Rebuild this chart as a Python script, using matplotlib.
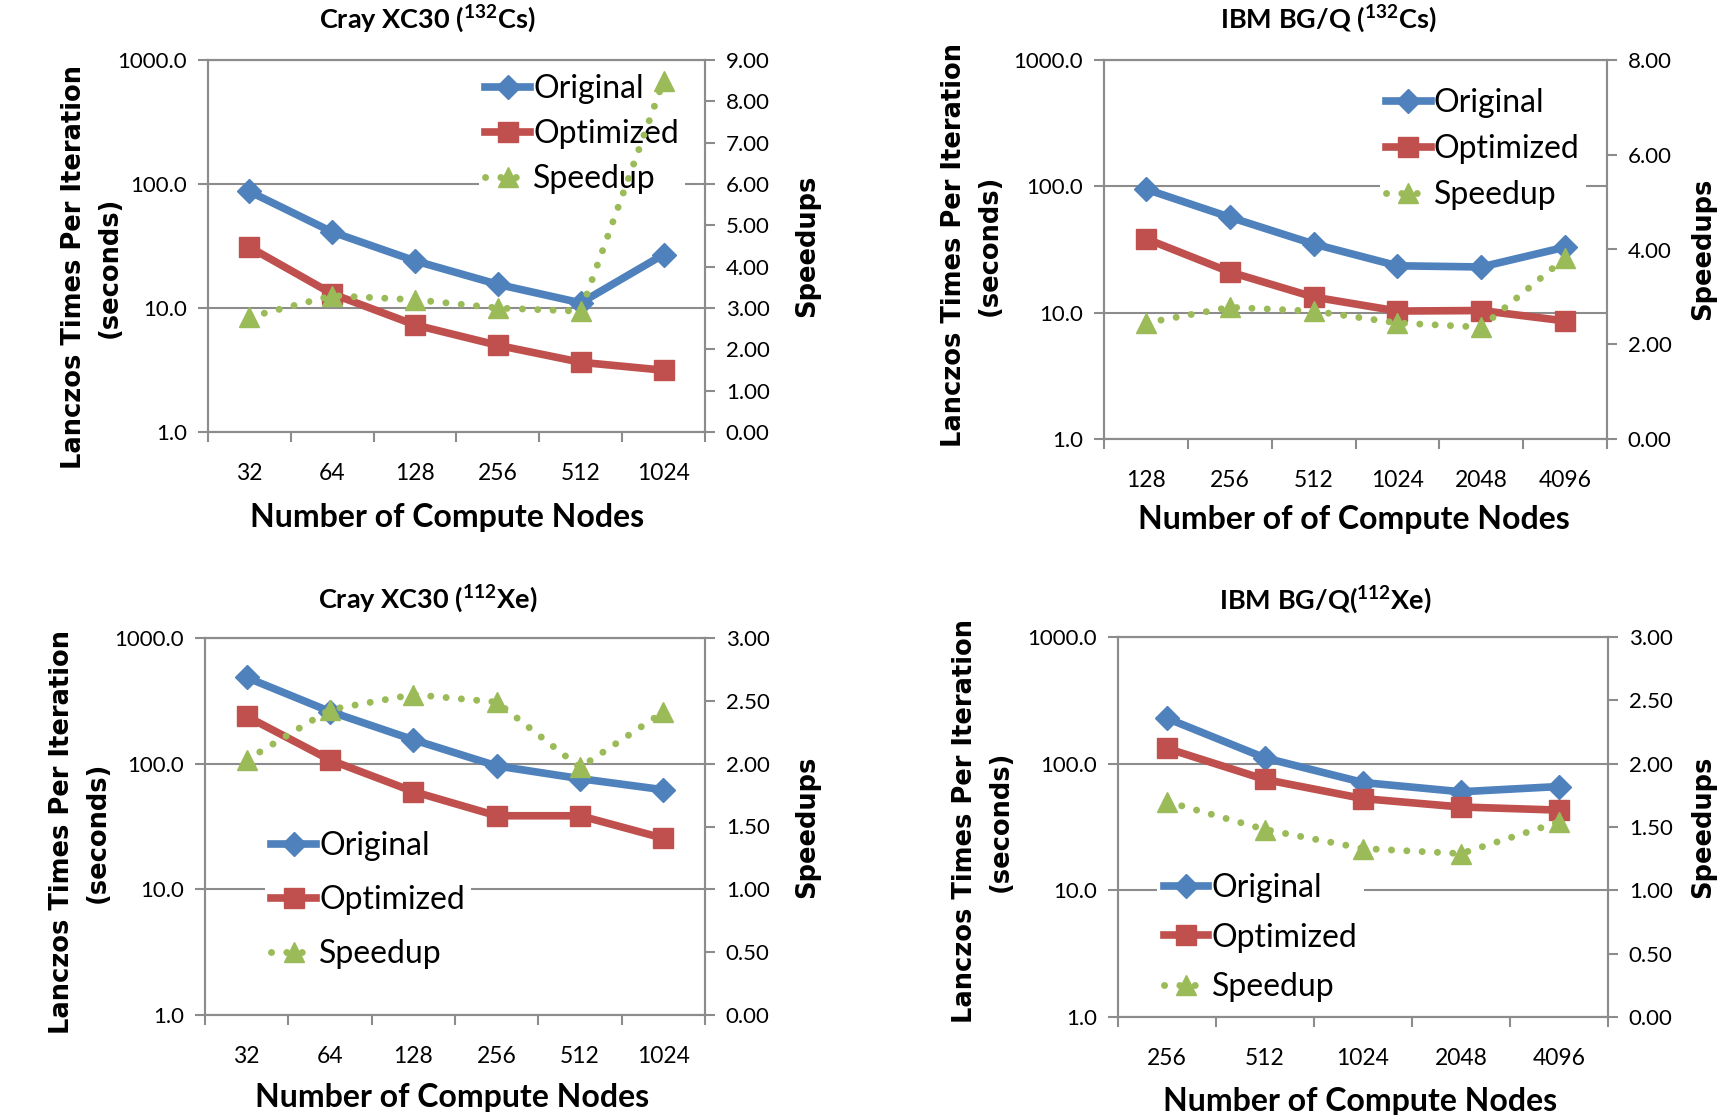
import numpy as np
import matplotlib
matplotlib.use('Agg')
import matplotlib.pyplot as plt
from matplotlib.ticker import NullLocator

plt.rcParams['font.family'] = ['Lato', 'DejaVu Sans']

# Cray XC30, 132Cs
nodes_cs_cray = ['32', '64', '128', '256', '512', '1024']
orig_cs_cray = [87, 41, 24, 15.5, 11, 27]
opt_cs_cray = [31, 13, 7.3, 5.0, 3.65, 3.15]
spd_cs_cray = [2.78, 3.3, 3.2, 3.0, 2.92, 8.5]

# IBM BG/Q, 132Cs
nodes_cs_bgq = ['128', '256', '512', '1024', '2048', '4096']
orig_cs_bgq = [95, 57, 35, 23.5, 23, 33]
opt_cs_bgq = [38.5, 21, 13.3, 10.3, 10.4, 8.6]
spd_cs_bgq = [2.45, 2.78, 2.7, 2.45, 2.36, 3.82]

# Cray XC30, 112Xe
nodes_xe_cray = ['32', '64', '128', '256', '512', '1024']
orig_xe_cray = [485, 260, 155, 96, 76, 62]
opt_xe_cray = [238, 107, 60, 38.5, 38.5, 25.5]
spd_xe_cray = [2.03, 2.43, 2.55, 2.49, 1.97, 2.41]

# IBM BG/Q, 112Xe
nodes_xe_bgq = ['256', '512', '1024', '2048', '4096']
orig_xe_bgq = [228, 111, 71, 60, 66]
opt_xe_bgq = [132, 75, 53, 45.5, 43]
spd_xe_bgq = [1.70, 1.48, 1.33, 1.29, 1.54]

blue = '#4F81BD'
red = '#C0504D'
green = '#9BBB59'
gray = '#8c8c8c'

fig = plt.figure(figsize=(17.2, 11.15), dpi=100)


def panel(rect, nodes, orig, opt, spd, spd_max, spd_step, leg_xy, leg_sp):
    ax = fig.add_axes(rect)
    x = np.arange(len(nodes))
    ax.plot(x, orig, color=blue, lw=5.5, marker='D', ms=12, label='Original', zorder=3)
    ax.plot(x, opt, color=red, lw=5.5, marker='s', ms=14, label='Optimized', zorder=3)
    ax.set_yscale('log')
    ax.set_ylim(1, 1000)
    ax.set_yticks([1, 10, 100, 1000])
    ax.set_yticklabels(['1.0', '10.0', '100.0', '1000.0'])
    ax.yaxis.set_minor_locator(NullLocator())
    ax.grid(axis='y', color=gray, lw=1.5)
    ax.set_axisbelow(True)
    ax.set_xlim(-0.5, len(nodes) - 0.5)
    ax.set_xticks(x)
    ax.set_xticklabels(nodes)
    ax.set_xticks(np.arange(len(nodes) + 1) - 0.5, minor=True)
    ax.tick_params(axis='x', which='major', length=0, pad=22, labelsize=16.5)
    ax.tick_params(axis='x', which='minor', length=7, width=1.5, color=gray)
    ax.tick_params(axis='y', which='major', length=7, width=1.5, color=gray, pad=8, labelsize=16)
    for s in ax.spines.values():
        s.set_color(gray)
        s.set_linewidth(1.5)

    ax2 = ax.twinx()
    ax2.plot(x, spd, color=green, lw=5, ls=(0, (0.01, 2.2)), dash_capstyle='round',
             marker='^', ms=15, label='Speedup')
    ax2.set_ylim(0, spd_max)
    ticks = np.arange(0, spd_max + 0.001, spd_step)
    ax2.set_yticks(ticks)
    ax2.set_yticklabels(['%.2f' % t for t in ticks])
    ax2.tick_params(axis='y', length=7, width=1.5, color=gray, pad=8, labelsize=16)
    for s in ax2.spines.values():
        s.set_color(gray)
        s.set_linewidth(1.5)

    h1, l1 = ax.get_legend_handles_labels()
    h2, l2 = ax2.get_legend_handles_labels()
    ax.legend(h1 + h2, l1 + l2, loc='center left', bbox_to_anchor=leg_xy,
              fontsize=23, frameon=True, fancybox=False, edgecolor='none',
              facecolor='white', framealpha=1, borderpad=0.2, borderaxespad=0,
              handlelength=1.4, handletextpad=0.1, labelspacing=leg_sp)
    return ax, ax2


def labels(title, tx, ty, xlab, xx, xy, ylx, yly, rx, ry):
    fig.text(tx / 1720, 1 - ty / 1115, title, ha='center', va='center',
             fontsize=19.5, fontweight='bold')
    fig.text(xx / 1720, 1 - xy / 1115, xlab, ha='center', va='center',
             fontsize=23, fontweight='bold')
    fig.text(ylx / 1720, 1 - yly / 1115, 'Lanczos Times Per Iteration\n(seconds)',
             rotation=90, ha='center', va='center', family='DejaVu Sans',
             fontsize=18.5, fontweight='bold', linespacing=1.5)
    fig.text(rx / 1720, 1 - ry / 1115, 'Speedups', rotation=90, ha='center',
             va='center', family='DejaVu Sans', fontsize=18.5, fontweight='bold')


panel([208 / 1720, 1 - 432 / 1115, 497 / 1720, 372 / 1115],
      nodes_cs_cray, orig_cs_cray, opt_cs_cray, spd_cs_cray, 9, 1, (0.545, 0.80), 0.47)
labels(r'Cray XC30 ($\mathregular{^{132}}$Cs)', 427, 19, 'Number of Compute Nodes', 447, 517,
       92, 267, 807, 246)

panel([1104 / 1720, 1 - 439 / 1115, 503 / 1720, 379 / 1115],
      nodes_cs_bgq, orig_cs_bgq, opt_cs_bgq, spd_cs_bgq, 8, 2, (0.548, 0.765), 0.5)
labels(r'IBM BG/Q ($\mathregular{^{132}}$Cs)', 1328, 19, 'Number of of Compute Nodes', 1354, 520,
       972, 245, 1703, 249)

panel([205 / 1720, 1 - 1015 / 1115, 500 / 1720, 377 / 1115],
      nodes_xe_cray, orig_xe_cray, opt_xe_cray, spd_xe_cray, 3, 0.5, (0.12, 0.304), 0.75)
labels(r'Cray XC30 ($\mathregular{^{112}}$Xe)', 428, 599, 'Number of Compute Nodes', 452, 1097,
       80, 832, 807, 827)

panel([1118 / 1720, 1 - 1017 / 1115, 490 / 1720, 380 / 1115],
      nodes_xe_bgq, orig_xe_bgq, opt_xe_bgq, spd_xe_bgq, 3, 0.5, (0.08, 0.209), 0.6)
labels(r'IBM BG/Q($\mathregular{^{112}}$Xe)', 1325, 600, 'Number of Compute Nodes', 1360, 1101,
       983, 821, 1703, 827)

fig.savefig('out.png', dpi=100)
